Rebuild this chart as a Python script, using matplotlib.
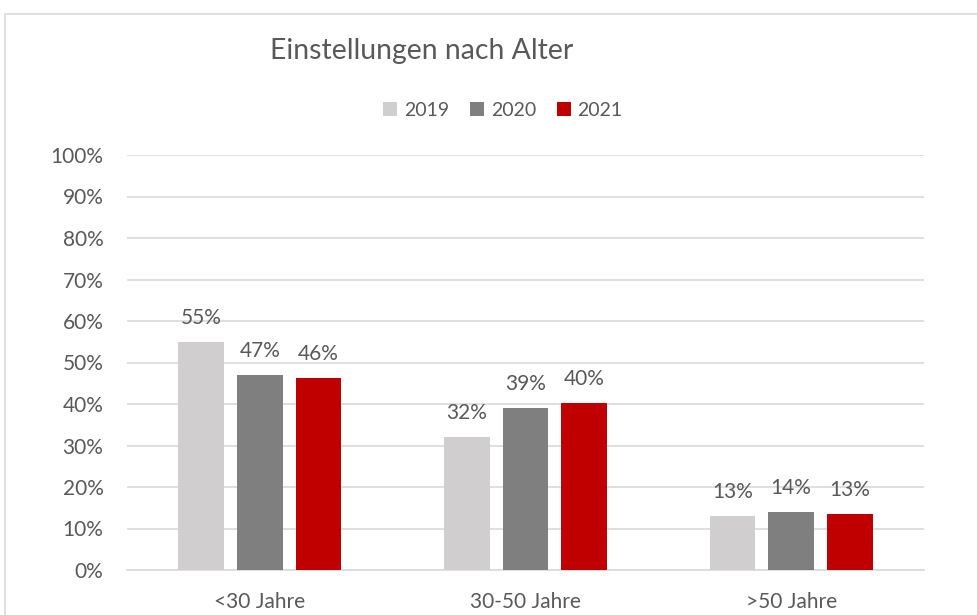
import numpy as np
import matplotlib.pyplot as plt
from matplotlib.patches import Rectangle

plt.rcParams['font.family'] = ['Lato', 'DejaVu Sans']

categories = ['<30 Jahre', '30-50 Jahre', '>50 Jahre']
years = ['2019', '2020', '2021']
v2019 = [0.55, 0.32, 0.13]
v2020 = [0.47, 0.39, 0.14]
v2021 = [0.462, 0.403, 0.134]
colors = ['#D0CECE', '#7F7F7F', '#C00000']
txt = '#595959'

fig = plt.figure(figsize=(9.78, 6.15), dpi=100)
W, H = 978, 615
ax = fig.add_axes([127 / W, 1 - 570 / H, (924 - 127) / W, (570 - 155) / H])

x = np.arange(len(categories))
width = 0.172
step = 0.221
for i, (vals, c, lab) in enumerate(zip([v2019, v2020, v2021], colors, years)):
    xs = x + (i - 1) * step
    ax.bar(xs, vals, width, color=c, label=lab, zorder=3)
    for xx, v in zip(xs, vals):
        ax.annotate(f'{round(v * 100):.0f}%', (xx, v), xytext=(0, 13),
                    textcoords='offset points', ha='center', va='baseline',
                    fontsize=15, color=txt)

ax.set_xlim(-0.5, 2.5)
ax.set_ylim(0, 1)
ax.set_yticks(np.arange(0, 1.01, 0.1))
ax.set_yticklabels([f'{int(t)}%' for t in np.arange(0, 101, 10)])
ax.set_xticks(x)
ax.set_xticklabels(categories)
ax.tick_params(axis='both', length=0, labelsize=15, colors=txt)
ax.tick_params(axis='y', pad=17)
ax.tick_params(axis='x', pad=16)
ax.grid(axis='y', color='#D9D9D9', linewidth=1.2, zorder=0)
for s in ['top', 'right', 'left']:
    ax.spines[s].set_visible(False)
ax.spines['bottom'].set_color('#D9D9D9')
ax.spines['bottom'].set_linewidth(1.2)

fig.text(422 / W, 1 - 59 / H, 'Einstellungen nach Alter', ha='center', va='baseline',
         fontsize=20.4, color=txt)
fig.legend(loc='center', bbox_to_anchor=(503 / W, 1 - 110 / H), ncol=3, frameon=False,
           fontsize=14, labelcolor=txt, handlelength=0.7, handleheight=0.7,
           handletextpad=0.36, columnspacing=1.08)

fig.patches.append(Rectangle((5 / W, -0.1), 1.2, 1 - 13.5 / H + 0.1, transform=fig.transFigure,
                             fill=False, edgecolor='#D9D9D9', linewidth=1.2))

fig.savefig('out.png', dpi=100)
